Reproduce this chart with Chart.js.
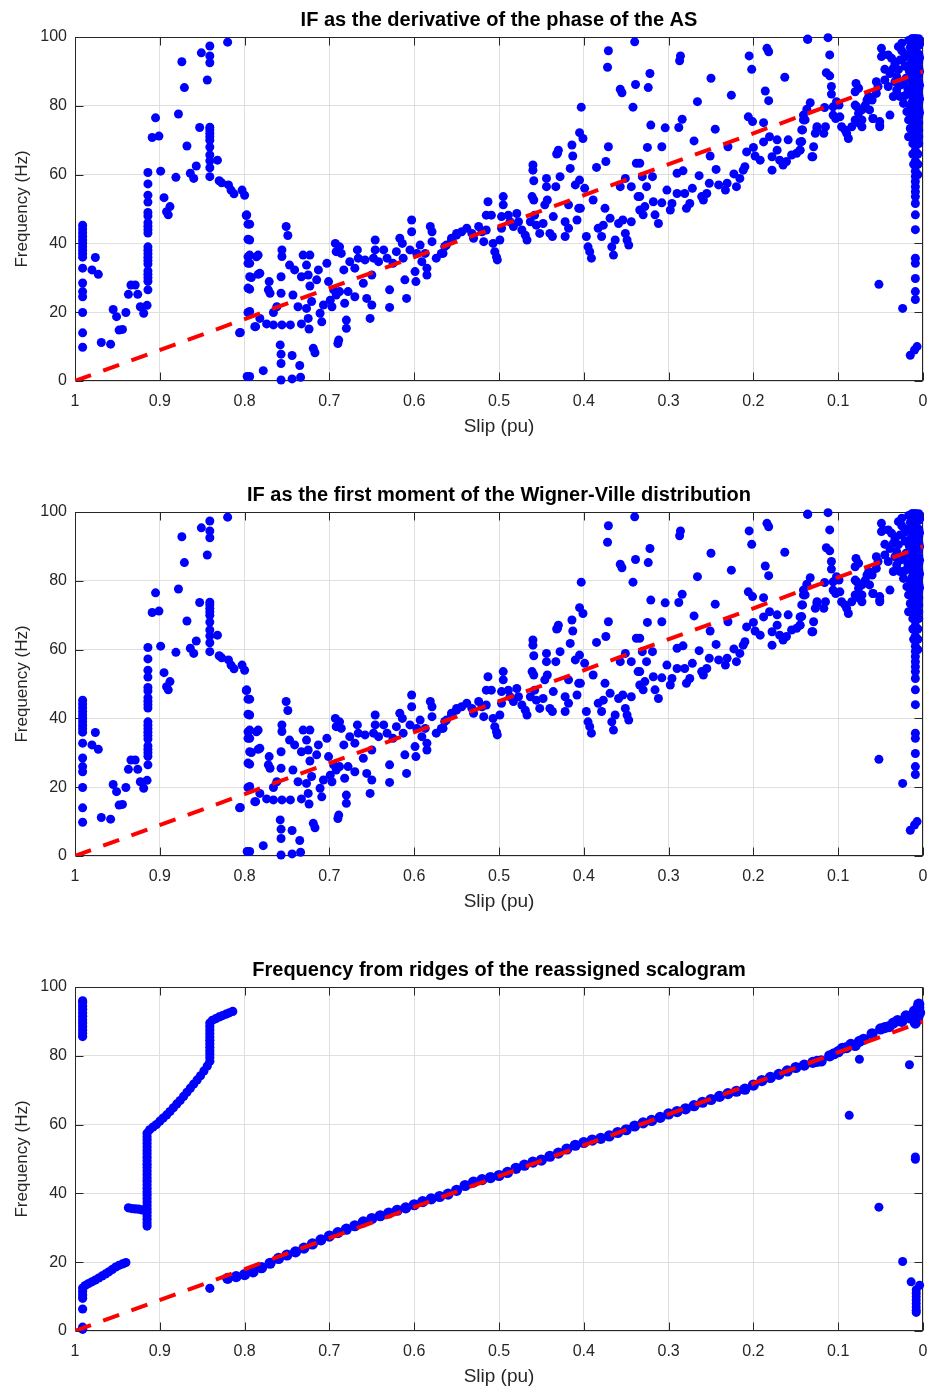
<!DOCTYPE html>
<html>
<head>
<meta charset="utf-8">
<script src="https://cdn.jsdelivr.net/npm/chart.js@4.4.1/dist/chart.umd.min.js"></script>
<style>
html,body{margin:0;padding:0;background:#fff;}
#wrap{position:relative;width:929px;height:1390px;overflow:hidden;}
.panel{position:absolute;left:0;width:929px;height:440px;}
</style>
</head>
<body>
<div id="wrap">
  <div class="panel" style="top:0px"><canvas id="c1" width="929" height="440"></canvas></div>
  <div class="panel" style="top:475px"><canvas id="c2" width="929" height="440"></canvas></div>
  <div class="panel" style="top:950px"><canvas id="c3" width="929" height="440"></canvas></div>
</div>
<script>
// ---------------- data ----------------
const titles = [
  'IF as the derivative of the phase of the AS',
  'IF as the first moment of the Wigner-Ville distribution',
  'Frequency from ridges of the reassigned scalogram'
];
const xLabel = 'Slip (pu)';
const yLabel = 'Frequency (Hz)';
const xTickValues = [1, 0.9, 0.8, 0.7, 0.6, 0.5, 0.4, 0.3, 0.2, 0.1, 0];
const xTickLabels = ['1', '0.9', '0.8', '0.7', '0.6', '0.5', '0.4', '0.3', '0.2', '0.1', '0'];
const yTickValues = [0, 20, 40, 60, 80, 100];
const yTickLabels = ['0', '20', '40', '60', '80', '100'];

// reference (theoretical) line: slip -> frequency
const refSlip = [1, 0];
const refFreq = [0, 90];

// instantaneous frequency estimates [slip, Hz] (same estimate appears in panels 1 and 2)
const ifLowSlip = [
 [0.991,45.3],[0.991,44.2],[0.991,43.1],[0.991,42],[0.991,41],[0.991,40],[0.991,39],[0.991,38],[0.991,37],[0.991,36],
 [0.991,32.8],[0.991,28.5],[0.991,26],[0.991,24.5],[0.991,19.9],[0.991,14],[0.991,9.8],
 [0.976,35.9],[0.980,32.3],[0.9725,31],[0.969,11.2],[0.958,10.7],
 [0.955,20.8],[0.951,18.7],[0.948,14.8],[0.944,15],[0.940,19.9],
 [0.937,25.2],[0.934,27.9],[0.929,27.9],[0.926,25.2],[0.923,21.6],[0.919,19.7],[0.915,22],
 [0.914,60.6],[0.914,57.3],[0.914,54],[0.914,52],[0.914,49],[0.914,48],[0.914,46],[0.914,45],[0.914,44],[0.914,43],
 [0.914,39],[0.914,38],[0.914,37],[0.914,36],[0.914,35],[0.914,34],[0.914,32],[0.914,31],[0.914,30],[0.914,29],[0.914,26.5],
 [0.909,70.8],[0.901,71.2],[0.905,76.5],[0.899,61],[0.895,53.3],[0.892,49.2],[0.89,48.3],[0.888,50.7],
 [0.881,59.2],[0.878,77.6],[0.874,92.8],[0.871,85.3],[0.868,68.3],[0.864,60.4],[0.86,58.9],[0.857,62.5],
 [0.853,73.7],[0.851,95.4],[0.844,87.5],
 [0.841,97.4],[0.841,94.5],[0.841,92.5],[0.841,73.8],[0.841,73],[0.841,72],[0.841,71],[0.841,70],[0.841,68],
 [0.841,65.7],[0.841,64],[0.841,62],[0.841,59.4],
 [0.832,64.2],[0.83,58.2],[0.827,57.6],[0.82,98.5],[0.819,57],[0.816,55.5],[0.8125,54.4],[0.803,55.5],[0.80,54],
 [0.7975,48.3],[0.796,45.6],[0.796,41.2],[0.796,36.1],[0.796,34.2],[0.794,30.3],[0.796,27],[0.796,19.9],
 [0.787,15.8],[0.806,14],[0.797,1.3],[0.786,36.1],[0.784,31]
];
const ifMidSlip = [
 [0.798,48.1],[0.794,45.6],[0.794,41],[0.794,36.6],[0.794,34.2],[0.784,36.6],[0.792,30.1],[0.782,31.3],[0.794,26.7],
 [0.794,20.2],[0.788,15.8],[0.805,14.1],[0.794,1.3],[0.778,3],[0.782,18.2],[0.774,16.6],[0.771,28.9],[0.772,26.5],
 [0.770,25.5],[0.766,19.9],[0.766,16.3],[0.762,21.6],[0.756,16.3],[0.746,16.3],[0.758,10.5],[0.757,7.8],[0.757,5.1],
 [0.757,0.3],[0.744,0.6],[0.734,1.1],[0.735,4.5],[0.744,7.4],[0.757,25.5],[0.757,30.3],[0.756,38.1],[0.756,36.2],
 [0.751,44.9],[0.749,42.3],[0.747,33.7],[0.743,25],[0.741,32.3],[0.737,21.6],[0.733,16.6],[0.724,15.1],[0.725,18.2],
 [0.727,21.1],[0.721,23.1],[0.719,9.5],[0.717,8.2],[0.733,30.3],[0.731,36.6],[0.723,36.6],[0.727,33.7],[0.725,30.8],
 [0.723,27.6],[0.715,29.4],[0.713,32.3],[0.711,19.7],[0.709,17.2],[0.707,22.1],[0.703,34.2],[0.701,28.9],[0.699,23.5],
 [0.697,21.6],[0.695,26.5],[0.693,40],[0.692,37.6],[0.688,39],[0.686,37.1],[0.692,25],[0.688,26],[0.682,22.6],
 [0.689,11.9],[0.690,10.9],[0.680,17.7],[0.680,15.3],[0.683,32.3],[0.678,26],[0.676,34.7],[0.670,24.5],[0.667,38.1],
 [0.666,35.7],[0.670,32.8],[0.660,28.4],[0.658,35.2],[0.656,24],[0.650,22.1],[0.652,18.2],[0.646,41],[0.646,38.1],
 [0.648,35.7],[0.650,30.8],[0.642,34.7],[0.636,38.1],[0.632,35.7],[0.629,26.5],[0.629,21.4],[0.625,34.2],[0.621,37.6],
 [0.617,41.5],[0.614,40],[0.611,29.4],[0.609,24],[0.613,35.7],[0.603,46.8],[0.603,43.4],[0.599,31.8],[0.598,28.9],
 [0.593,39.5],[0.587,37.1],[0.581,44.9],[0.579,43.4],[0.585,32.8],[0.585,30.8],[0.579,40.5],[0.574,35.7],[0.568,37.1],
 [0.564,39.1],[0.556,41.5],[0.550,42.9],[0.597,37.1],[0.605,38.1],[0.591,34.7],
 [0.566,37.1],[0.562,39.5],[0.556,41],[0.550,42.4],[0.544,43.4],[0.538,44.4],[0.532,42.9],[0.530,41.5],[0.524,44.9],
 [0.520,43.4],[0.518,40.5],[0.515,43.9],[0.513,52.1],[0.515,48.2],[0.509,48.2],[0.507,40],[0.505,37.6],[0.503,36.1],
 [0.502,35.2],[0.499,41],[0.497,44.4],[0.495,53.6],[0.495,51.2],[0.497,47.8],[0.489,48.2],[0.487,46.3],[0.483,44.9],
 [0.479,48.7],[0.477,46.3],[0.473,43.9],[0.469,42.4],[0.467,41],[0.463,46.3],[0.461,53.6],[0.459,52.6],[0.458,48.2],
 [0.460,61.3],[0.460,62.8],[0.459,58.2],[0.456,45.3],[0.452,42.9],[0.448,45.8],[0.446,51.2],[0.443,52.6],[0.444,58.9],
 [0.444,56.5],[0.440,42.9],[0.437,42],[0.436,47.8],[0.433,56.5],[0.431,66.2],[0.428,59.4],[0.422,46.3],[0.422,42],
 [0.418,44.4],[0.418,51.2],[0.416,61.8],[0.413,65.4],[0.410,57],[0.408,46.8],[0.405,58.4],[0.406,50.2],[0.404,50.2],
 [0.399,56],[0.397,42],[0.395,39],[0.391,35.7],[0.393,37.6],[0.389,52.6],[0.385,62.1],[0.383,44.4],[0.379,42],
 [0.375,50.2],[0.374,63.8],[0.377,45.3],[0.369,47.3],[0.367,39],[0.365,36.6],[0.363,41],[0.359,45.8],[0.354,46.8],
 [0.351,42.9],[0.349,41],[0.347,39.5],[0.344,46.3],[0.357,56.5],[0.351,58.9],[0.344,56.5],[0.338,63.3],[0.336,53.6],
 [0.334,49.7],
 [0.340,98.6],[0.371,96],[0.372,91.2],[0.357,84.8],[0.355,83.8],[0.339,86.2],[0.403,79.6],[0.342,79.6],[0.405,72.2],
 [0.401,70.5],[0.414,68.6],[0.430,67.1],[0.432,66],[0.371,68.1],[0.325,67.9]
];
const ifHighSlip = [
 [0.286,94.5],[0.287,93.1],[0.322,89.4],[0.324,85.3],[0.250,88],[0.184,96.7],[0.182,95.7],[0.205,94.5],[0.202,90.6],
 [0.136,99.4],[0.163,88.3],[0.186,84.3],[0.182,81.5],[0.226,83.1],[0.266,81.2],[0.284,76.1],[0.288,73.7],[0.304,73.6],
 [0.321,74.4],[0.245,73.2],[0.206,76.8],[0.201,75.4],[0.188,75.1],[0.133,80.9],[0.137,79],[0.141,75.9],[0.143,73],
 [0.125,73.9],[0.270,69.8],[0.308,68.1],[0.251,65.4],[0.230,68.1],[0.208,66.6],[0.200,67.9],[0.188,69.5],
 [0.181,71],[0.172,70.1],[0.159,70.1],[0.145,69.5],[0.129,68.1],[0.198,65.4],[0.192,64.2],[0.178,65.2],[0.172,67.1],
 [0.169,64.2],[0.161,63.8],[0.155,65.7],[0.149,66.2],[0.145,67.1],[0.131,65.2],[0.178,61.3],[0.165,62.8],[0.334,63.3],
 [0.319,59.4],[0.290,60.4],[0.283,61.1],[0.264,59.7],[0.244,61.5],[0.223,60.2],[0.210,62.3],[0.212,61.3],[0.216,58.9],
 [0.220,56.5],[0.231,57.5],[0.233,55.5],[0.241,57],[0.252,57.5],[0.255,54.5],[0.261,53.6],[0.272,56],[0.259,52.6],
 [0.281,54.5],[0.290,54.5],[0.275,51.6],[0.279,50.2],[0.296,51.6],[0.298,49.7],[0.302,55.5],[0.308,51.8],[0.318,52.1],
 [0.326,56.5],[0.328,50.7],[0.330,48.3],[0.316,48.3],[0.312,45.8],[0.334,53.6],[0.331,59.4],
 [0.136,99.3],[0.112,99.8],[0.110,94.8],[0.114,89.6],[0.110,88.7],[0.108,85.6],[0.108,83.4],[0.141,77.3],[0.139,75.9],
 [0.142,73],[0.143,69.6],[0.145,67.1],[0.130,65.2],[0.125,73.4],[0.127,72],[0.115,73.9],[0.117,72],[0.116,79.5],
 [0.106,79.7],[0.102,81.2],[0.099,80.2],[0.106,77.3],[0.103,76.3],[0.098,76.8],[0.096,73.9],[0.092,73],[0.088,70.5],
 [0.090,72],[0.084,73.9],[0.080,75.9],[0.075,74.9],[0.072,73.9],[0.079,86.5],[0.076,85.1],[0.080,84.1],[0.078,79.7],
 [0.072,78.8],[0.068,80.2],[0.064,82.7],[0.060,81.7],[0.055,87],[0.055,83.6],[0.049,96.7],[0.049,94.3],[0.041,94.8],
 [0.045,90.6],[0.059,76.3],[0.051,75.4],[0.051,73.9],[0.039,77.3],[0.045,87.5],[0.041,85.6],[0.035,82.7],[0.031,88.5],
 [0.029,97.2],[0.025,98.2],[0.033,92.3],[0.027,93.3],
 [0.080,80.2],[0.076,77.8],[0.072,75.9],[0.066,81.7],[0.063,78.8],[0.059,76.3],[0.051,74.4],[0.053,85.6],[0.039,89.4],
 [0.047,94.8],[0.037,93.8],[0.035,90.9],[0.031,84.6],[0.027,82.7],[0.023,80.7],[0.019,78.3],[0.017,75.9],[0.015,73.4],
 [0.017,71],[0.025,96],[0.022,94],[0.029,90.5],[0.033,87],[0.020,88],[0.018,85],[0.021,83],[0.016,90],[0.019,95],
 [0.015,97],[0.017,99],[0.012,99.5],[0.021,91.5],[0.023,86.5],[0.027,86]
];
const ifNearZero = [
 [0.009,99.6],[0.009,98.5],[0.009,97],[0.009,95.5],[0.009,94],[0.009,92.5],[0.009,91],[0.009,89.5],[0.009,88],
 [0.009,86.5],[0.009,85],[0.009,83.5],[0.009,82],[0.009,80.5],[0.009,79],[0.009,77.5],[0.009,76],[0.009,74.5],
 [0.009,73],[0.009,71.5],[0.009,70],[0.009,68.5],[0.009,67],[0.009,65.5],[0.009,64],[0.009,62.5],[0.009,61],
 [0.009,59.5],[0.009,58],[0.009,56.5],[0.009,55],[0.009,53.6],[0.009,51.6],[0.009,48.3],[0.009,44],
 [0.005,99.5],[0.005,97.5],[0.005,95],[0.005,93],[0.005,91],[0.005,89],[0.005,87],[0.005,85],[0.005,83],[0.005,81],
 [0.005,79],[0.005,77],[0.005,75],[0.005,73],[0.005,71],[0.005,69],[0.006,66],[0.006,63],[0.006,60],
 [0.013,99.5],[0.013,97],[0.013,95],[0.013,93],[0.013,91],[0.013,89],[0.013,87],[0.013,85],[0.013,83],[0.013,81],
 [0.013,79],[0.013,77],[0.012,75],[0.012,72],[0.012,69],[0.012,66],[0.011,63],
 [0.004,98],[0.004,94],[0.004,90],[0.004,86],[0.004,82],[0.004,78],[0.015,95],[0.015,92],[0.015,88],[0.015,84],
 [0.015,80],[0.015,76],
 [0.009,35.7],[0.009,34.2],[0.009,29.8],[0.009,26],[0.009,23.7],[0.052,28.1],[0.024,21.1],[0.015,7.5],[0.007,10],[0.010,9]
];

// reassigned-scalogram ridge estimates [slip, Hz]
const ridgeMain = [
 [0.82,15.3],[0.81,15.8],[0.80,16.4],[0.79,17.2],[0.78,18.4],[0.77,19.7],[0.76,21.1],[0.75,22.1],[0.74,23.0],
 [0.73,24.1],[0.72,25.3],[0.71,26.5],[0.70,27.6],[0.69,28.6],[0.68,29.6],[0.67,30.6],[0.66,31.7],[0.65,32.7],
 [0.64,33.5],[0.63,34.3],[0.62,35.1],[0.61,35.8],[0.60,36.7],[0.59,37.6],[0.58,38.4],[0.57,39.1],[0.56,39.8],
 [0.55,40.9],[0.54,42.3],[0.53,43.3],[0.52,44.0],[0.51,44.6],[0.50,45.2],[0.49,46.1],[0.48,47.3],[0.47,48.2],
 [0.46,49.1],[0.45,49.7],[0.44,50.8],[0.43,51.7],[0.42,52.9],[0.41,54.0],[0.40,54.8],[0.39,55.5],[0.38,56.0],
 [0.37,56.7],[0.36,57.7],[0.35,58.5],[0.34,59.6],[0.33,60.5],[0.32,61.2],[0.31,62.1],[0.30,63.1],[0.29,63.8],
 [0.28,64.6],[0.27,65.5],[0.26,66.5],[0.25,67.3],[0.24,68.2],[0.23,69.0],[0.22,69.7],[0.21,70.3],[0.20,71.5],
 [0.19,72.8],[0.18,73.7],[0.17,74.6],[0.16,75.6],[0.15,76.6],[0.14,77.3],[0.13,78.1],[0.12,78.5],[0.11,80.0],
 [0.10,81.2],[0.09,82.4],[0.08,83.0],[0.07,84.8],[0.06,86.4],[0.05,87.8],[0.04,88.5],[0.03,90.2],[0.02,91.6],
 [0.01,93.0],[0.005,94.0],[0.008,90.5],[0.006,91.5],[0.004,92.5],[0.009,89.5],[0.007,93.5],[0.005,95.0],[0.012,92.0],
 [0.015,91.0],[0.025,90.0],[0.035,89.5],[0.045,88.2],[0.085,83.3],[0.075,84.2],[0.105,80.6],[0.125,78.4],[0.095,82.2]
];
const ridgeLow = [
 [0.991,96],[0.991,95.5],[0.991,94.5],[0.991,93.5],[0.991,92.5],[0.991,91.5],[0.991,90.5],[0.991,89.5],[0.991,88.5],
 [0.991,87.5],[0.991,86.5],[0.991,85.6],
 [0.991,9.5],[0.991,10.5],[0.991,11.5],[0.991,12.5],[0.988,13.2],[0.984,13.8],[0.980,14.3],[0.976,14.8],[0.972,15.4],
 [0.968,16.0],[0.964,16.6],[0.960,17.2],[0.956,17.9],[0.952,18.6],[0.948,19.1],[0.944,19.5],[0.940,19.9],
 [0.991,6.4],[0.991,1.1],[0.991,0.5],
 [0.937,35.8],[0.933,35.6],[0.929,35.5],[0.925,35.4],[0.921,35.2],[0.917,35.0],
 [0.915,30.5],[0.915,31.5],[0.915,32.5],[0.915,33.5],[0.915,34.5],[0.915,35.5],[0.915,36.5],[0.915,37.5],[0.915,38.5],
 [0.915,39.5],[0.915,40.5],[0.915,41.5],[0.915,42.5],[0.915,43.5],[0.915,44.5],[0.915,45.5],[0.915,46.5],[0.915,47.5],
 [0.915,48.5],[0.915,49.5],[0.915,50.5],[0.915,51.5],[0.915,52.5],[0.915,53.5],[0.915,54.5],[0.915,55.5],[0.915,56.5],
 [0.915,57.5],
 [0.912,58.5],[0.908,59.3],[0.904,60.0],[0.900,61.0],[0.896,61.9],[0.892,62.8],[0.888,63.8],[0.884,64.9],[0.880,66.0],
 [0.876,67.0],[0.872,68.2],[0.868,69.4],[0.864,70.6],[0.860,71.8],[0.856,73.0],[0.852,74.2],[0.848,75.6],[0.844,77.0],
 [0.841,78.4],[0.841,79.5],[0.841,80.5],[0.841,81.5],[0.841,82.5],[0.841,83.5],[0.841,84.5],[0.841,85.5],[0.841,86.5],
 [0.841,87.5],[0.841,88.5],[0.841,89.5],
 [0.838,90.3],[0.834,90.8],[0.830,91.3],[0.826,91.7],[0.822,92.1],[0.818,92.5],[0.814,92.9],
 [0.841,12.4]
];
const ridgeOutliers = [
 [0.075,79],[0.016,77.4],[0.087,62.7],[0.009,49.9],[0.009,50.6],[0.052,36],[0.024,20.2],[0.014,14.3],[0.004,13.3],
 [0.008,12],[0.008,11],[0.008,10],[0.008,9],[0.008,8],[0.008,7],[0.008,6],[0.008,5.4]
];

// ---------------- chart helpers ----------------
const FONT = "'Liberation Sans', Arial, Helvetica, sans-serif";
const toXY = arr => arr.map(p => ({x: p[0], y: p[1]}));

const framePlugin = {
  id: 'frame',
  beforeDatasetsDraw(chart) {
    const {ctx, chartArea: a, scales: {x, y}} = chart;
    ctx.save();
    ctx.strokeStyle = '#262626';
    ctx.lineWidth = 1;
    const L = Math.round(a.left) + 0.5, R = Math.round(a.right) - 0.5;
    const T = Math.round(a.top) + 0.5, B = Math.round(a.bottom) - 0.5;
    ctx.strokeRect(L, T, R - L, B - T);
    const tl = 8;
    ctx.beginPath();
    xTickValues.forEach(v => {
      const px = Math.round(x.getPixelForValue(v)) + 0.5;
      ctx.moveTo(px, B); ctx.lineTo(px, B - tl);
      ctx.moveTo(px, T); ctx.lineTo(px, T + tl);
    });
    yTickValues.forEach(v => {
      const py = Math.round(y.getPixelForValue(v)) + 0.5;
      ctx.moveTo(L, py); ctx.lineTo(L + tl, py);
      ctx.moveTo(R, py); ctx.lineTo(R - tl, py);
    });
    ctx.stroke();
    ctx.restore();
  },
  afterDraw(chart, args, opts) {
    const {ctx, chartArea: a} = chart;
    ctx.save();
    ctx.fillStyle = '#000';
    ctx.font = 'bold 20px ' + FONT;
    ctx.textAlign = 'center';
    ctx.textBaseline = 'middle';
    ctx.fillText(opts.text, (a.left + a.right) / 2, 20);
    ctx.restore();
  }
};

function makeChart(id, title, pointSets, radii) {
  const datasets = [{
    type: 'line',
    data: refSlip.map((s, i) => ({x: s, y: refFreq[i]})),
    borderColor: '#ff0000',
    borderWidth: 4,
    borderDash: [17, 13],
    pointRadius: 0,
    fill: false,
    order: 0
  }];
  pointSets.forEach((ps, k) => datasets.push({
    type: 'scatter',
    data: toXY(ps),
    backgroundColor: '#0000ff',
    borderColor: '#0000ff',
    borderWidth: 0,
    pointRadius: radii[k],
    pointHoverRadius: radii[k],
    clip: false,
    order: 1
  }));
  return new Chart(document.getElementById(id), {
    type: 'scatter',
    data: {datasets},
    plugins: [framePlugin],
    options: {
      responsive: false,
      animation: false,
      events: [],
      layout: {padding: {top: 37, right: 6, left: 0, bottom: 0}},
      plugins: {
        legend: {display: false},
        tooltip: {enabled: false},
        frame: {text: title}
      },
      scales: {
        x: {
          type: 'linear', reverse: true, min: 0, max: 1,
          afterFit: s => { s.height = 59; s.paddingLeft = 0; s.paddingRight = 0; },
          afterBuildTicks: s => { s.ticks = xTickValues.map(v => ({value: v})); },
          ticks: {
            autoSkip: false, maxRotation: 0, padding: 11, color: '#262626',
            font: {family: FONT, size: 16},
            callback: (v, i) => xTickLabels[i]
          },
          grid: {color: '#dfdfdf', lineWidth: 1, drawTicks: false},
          border: {display: false},
          title: {display: true, text: xLabel, color: '#262626', font: {family: FONT, size: 19}, padding: {top: 0, bottom: 1.6}}
        },
        y: {
          type: 'linear', min: 0, max: 100,
          afterFit: s => { s.width = 75; s.paddingTop = 0; s.paddingBottom = 0; },
          afterBuildTicks: s => { s.ticks = yTickValues.map(v => ({value: v})); },
          ticks: {
            autoSkip: false, padding: 8, color: '#262626',
            font: {family: FONT, size: 16},
            callback: (v, i) => yTickLabels[i]
          },
          grid: {color: '#dfdfdf', lineWidth: 1, drawTicks: false},
          border: {display: false},
          title: {display: true, text: yLabel, color: '#262626', font: {family: FONT, size: 17}, padding: {top: 12, bottom: 0}}
        }
      }
    }
  });
}

const ifAll = [ifLowSlip, ifMidSlip, ifHighSlip, ifNearZero];
makeChart('c1', titles[0], ifAll, [4.5, 4.5, 4.5, 4.5]);
makeChart('c2', titles[1], ifAll, [4.5, 4.5, 4.5, 4.5]);
makeChart('c3', titles[2], [ridgeMain, ridgeLow, ridgeOutliers], [5.6, 4.6, 4.5]);
</script>
</body>
</html>
